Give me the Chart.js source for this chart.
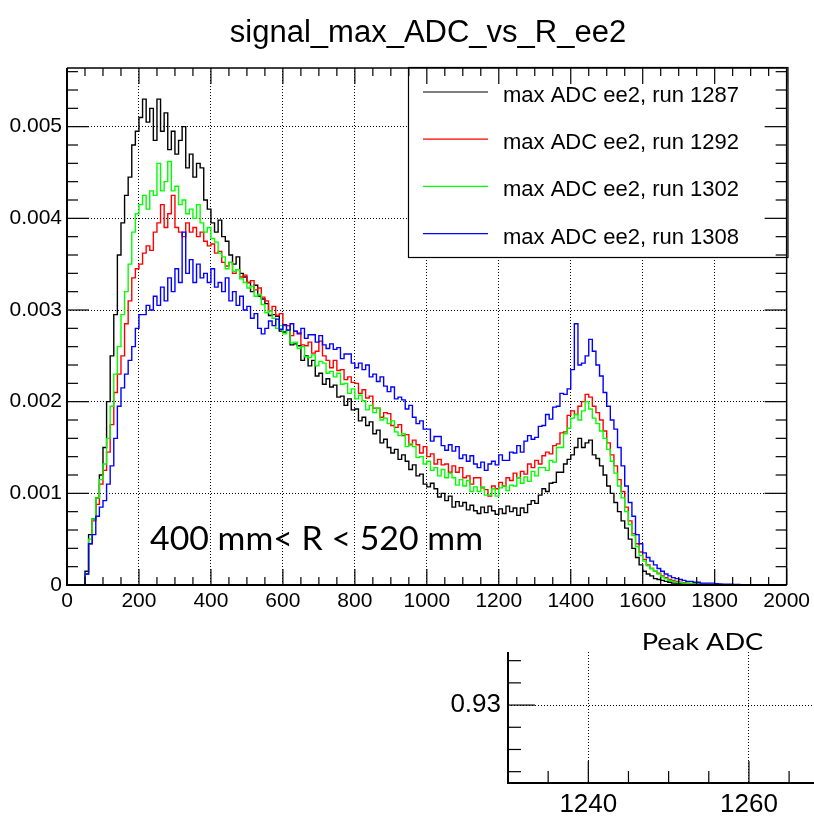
<!DOCTYPE html>
<html><head><meta charset="utf-8">
<script src="https://cdn.jsdelivr.net/npm/chart.js@4.4.1/dist/chart.umd.min.js"></script>
<style>
html,body{margin:0;padding:0;background:#fff;}
#wrap{position:relative;width:814px;height:817px;overflow:hidden;}
#main{position:absolute;left:0;top:0;}
#inset{position:absolute;left:420px;top:620px;}
</style></head><body>
<div id="wrap"><canvas id="main" width="814" height="817"></canvas><canvas id="inset" width="394" height="197"></canvas></div>
<script>
const chartTitle = 'signal_max_ADC_vs_R_ee2';
const seriesLabels = ['max ADC ee2, run 1287','max ADC ee2, run 1292','max ADC ee2, run 1302','max ADC ee2, run 1308'];
const seriesColors = ['#000000','#ff0000','#00ff00','#0000ff'];
const annotationText = '400 mm< R < 520 mm';
const insetTitle = 'Peak ADC';
// histogram bins: 10 ADC wide, 0..2000
const binEdges = Array.from({length: 201}, (_, i) => i * 10);
const xTicks = [0,200,400,600,800,1000,1200,1400,1600,1800,2000];
const yTicks = [0,0.001,0.002,0.003,0.004,0.005];
const insetXTicks = [1240,1260];
const insetYTicks = [0.93];

const run1287 = [
0,0,0,0,0,
0.00015,0.00055,0.00072,0.00095,0.0012,
0.0015,0.002,0.0025,0.00295,0.0036,
0.00395,0.00425,0.00445,0.0048,0.00495,
0.0051,0.0053,0.00505,0.0052,0.00485,
0.0053,0.00495,0.00515,0.00475,0.00495,
0.0047,0.00485,0.005,0.00455,0.0047,
0.00445,0.0046,0.00455,0.0042,0.0041,
0.00395,0.00385,0.00398,0.0038,0.00375,
0.0036,0.0035,0.00358,0.0034,0.00336,
0.0033,0.0032,0.00327,0.00315,0.00312,
0.00307,0.00294,0.00295,0.00293,0.00277,
0.00276,0.00278,0.00262,0.00263,0.00261,
0.00245,0.0025,0.00239,0.00245,0.00228,
0.00231,0.00219,0.00225,0.00216,0.00218,
0.00205,0.00206,0.00196,0.00203,0.00191,
0.00192,0.00179,0.00183,0.00174,0.00178,
0.00165,0.00169,0.00155,0.00159,0.0015,
0.00144,0.00148,0.00137,0.00142,0.00135,
0.00126,0.00131,0.00119,0.00121,0.0011,
0.00107,0.00111,0.00105,0.00096,0.001,
0.00092,0.00097,0.00085,0.00091,0.00086,
0.0009,0.00082,0.00087,0.00081,0.00078,
0.00085,0.00079,0.00086,0.00081,0.00077,
0.00083,0.00078,0.00086,0.0008,0.00084,
0.00076,0.00084,0.00079,0.00088,0.00092,
0.00089,0.00098,0.00105,0.00102,0.00111,
0.00112,0.00123,0.00123,0.00132,0.00137,
0.00142,0.0015,0.0016,0.0015,0.00155,
0.00158,0.00142,0.00138,0.0013,0.0012,
0.00108,0.001,0.0009,0.0008,0.0007,
0.00062,0.0005,0.0004,0.0003,0.00022,
0.00015,0.00012,0.0001,0.00007,0.00006,
0.00005,0.00004,0.00003,0.00002,0.00002,
0.000015,0.00001,0.00001,0.000008,0.000006,
0.000005,0.000004,0.000004,0.000003,0.000003,
0.000002,0.000002,0.000002,0.000001,0.000001,
0.000001,0.000001,0,0,0,
0,0,0,0,0,
0,0,0,0,0];

const run1292 = [
0,0,0,0,0,
0.00012,0.00045,0.0007,0.00088,0.0011,
0.00125,0.00145,0.00175,0.0021,0.0023,
0.0025,0.00285,0.0031,0.00335,0.00345,
0.0035,0.00362,0.0037,0.00365,0.00385,
0.00395,0.00415,0.0039,0.00405,0.00425,
0.0039,0.00385,0.0038,0.00395,0.00385,
0.0039,0.0038,0.00385,0.00375,0.0037,
0.00372,0.00362,0.00364,0.00352,0.00348,
0.00352,0.0034,0.00344,0.00336,0.00338,
0.0033,0.00332,0.00322,0.00324,0.00314,
0.0031,0.00299,0.00304,0.00294,0.00296,
0.00283,0.00283,0.00272,0.00277,0.00275,
0.00262,0.00261,0.00265,0.00253,0.00255,
0.00266,0.0025,0.00245,0.00237,0.00245,
0.00234,0.00235,0.00224,0.00227,0.00221,
0.0022,0.00209,0.00213,0.00204,0.00206,
0.00193,0.00193,0.00183,0.00188,0.00187,
0.00174,0.00172,0.00175,0.00163,0.00164,
0.00153,0.00158,0.00153,0.00144,0.00151,
0.0014,0.00143,0.00132,0.00137,0.00131,
0.00132,0.00123,0.0013,0.00123,0.00128,
0.00117,0.00119,0.0011,0.00117,0.00117,
0.00106,0.00104,0.00097,0.00108,0.00105,
0.00112,0.00108,0.00117,0.00114,0.00122,
0.00117,0.00124,0.00121,0.00132,0.00128,
0.00136,0.00132,0.00141,0.00145,0.00143,
0.00152,0.00154,0.00166,0.00167,0.00185,
0.0019,0.00186,0.00195,0.002,0.00208,
0.00205,0.00195,0.00188,0.0018,0.00168,
0.00155,0.00142,0.0013,0.00115,0.00102,
0.00085,0.0007,0.00056,0.00045,0.00036,
0.00028,0.00022,0.00018,0.00015,0.00013,
0.0001,0.00008,0.00006,0.00005,0.00004,
0.00003,0.000025,0.00002,0.000018,0.000015,
0.000012,0.00001,0.000008,0.000007,0.000006,
0.000005,0.000004,0.000003,0.000003,0.000002,
0.000002,0.000002,0.000001,0.000001,0.000001,
0,0,0,0,0,
0,0,0,0,0];

const run1302 = [
0,0,0,0,0,
0.00012,0.0005,0.00072,0.00095,0.00115,
0.00132,0.0016,0.00195,0.0023,0.0026,
0.00295,0.0032,0.0035,0.00385,0.00405,
0.00415,0.00425,0.0041,0.0043,0.00425,
0.0046,0.0043,0.0044,0.00462,0.0043,
0.00435,0.00415,0.0042,0.00405,0.0041,
0.004,0.00415,0.00395,0.00385,0.0039,
0.00378,0.00374,0.00362,0.00358,0.00345,
0.00352,0.00342,0.00344,0.00334,0.0033,
0.00324,0.00326,0.00315,0.00317,0.00306,
0.00297,0.00299,0.00291,0.0028,0.00283,
0.00274,0.00278,0.00264,0.00265,0.00258,
0.0026,0.00249,0.00248,0.00251,0.00239,
0.00244,0.00242,0.00231,0.00233,0.00227,
0.00231,0.00219,0.0022,0.00209,0.00214,
0.00203,0.00207,0.00201,0.00191,0.00196,
0.00188,0.00193,0.0018,0.00182,0.00176,
0.00179,0.00167,0.00163,0.00165,0.00151,
0.00154,0.00151,0.00139,0.0014,0.00132,
0.00135,0.00125,0.00128,0.00119,0.00126,
0.00117,0.00122,0.00117,0.00109,0.00115,
0.00108,0.00114,0.00102,0.00107,0.00102,
0.00107,0.00098,0.00098,0.00105,0.00097,
0.00106,0.00108,0.00103,0.00109,0.00108,
0.00117,0.00111,0.00118,0.00113,0.00124,
0.00119,0.00128,0.00128,0.00125,0.00136,
0.00134,0.0015,0.0015,0.00165,0.00171,
0.00182,0.00186,0.0018,0.0019,0.002,
0.00192,0.00182,0.00176,0.00168,0.0016,
0.00148,0.00135,0.00122,0.00108,0.00095,
0.0008,0.00066,0.00054,0.00042,0.00032,
0.00026,0.00021,0.00018,0.00015,0.00012,
0.00009,0.00007,0.00005,0.00004,0.00003,
0.000025,0.00002,0.000018,0.000015,0.000012,
0.00001,0.000008,0.000007,0.000006,0.000005,
0.000004,0.000004,0.000003,0.000003,0.000002,
0.000002,0.000001,0.000001,0.000001,0,
0,0,0,0,0,
0,0,0,0,0];

const run1308 = [
0,0,0,0,0,
0.00012,0.00045,0.00055,0.00075,0.00085,
0.00092,0.0011,0.0013,0.0016,0.00195,
0.00215,0.0023,0.00245,0.0026,0.0028,
0.00295,0.00295,0.00305,0.003,0.00315,
0.00305,0.00325,0.0031,0.00335,0.0032,
0.00345,0.0033,0.00385,0.0034,0.00355,
0.0033,0.0035,0.00335,0.0034,0.0033,
0.00345,0.00325,0.0033,0.0032,0.00335,
0.0031,0.0032,0.00305,0.00315,0.003,
0.00304,0.00291,0.00296,0.0028,0.00274,
0.0028,0.00288,0.00283,0.0029,0.00279,
0.00284,0.00278,0.00285,0.00277,0.00274,
0.0028,0.00269,0.00273,0.00273,0.00265,
0.00272,0.00262,0.00258,0.00263,0.00257,
0.00259,0.00247,0.00252,0.00252,0.00242,
0.00237,0.00242,0.00235,0.0024,0.00227,
0.0023,0.00222,0.00227,0.00217,0.00211,
0.00216,0.00203,0.00205,0.00202,0.00192,
0.00196,0.00183,0.00176,0.00179,0.0017,
0.0017,0.00157,0.00162,0.00162,0.00152,
0.00147,0.00153,0.00146,0.00151,0.00138,
0.00142,0.00135,0.00141,0.00132,0.00128,
0.00134,0.00125,0.00132,0.00135,0.00131,
0.00142,0.00136,0.00136,0.00145,0.00144,
0.00152,0.00145,0.00157,0.00163,0.00159,
0.00161,0.00173,0.00174,0.00186,0.00181,
0.00194,0.00195,0.00209,0.00208,0.00214,
0.00235,0.00285,0.0024,0.00242,0.0025,
0.00268,0.00255,0.0024,0.00228,0.0021,
0.00195,0.0018,0.0017,0.0015,0.0013,
0.00108,0.0009,0.00075,0.00055,0.00045,
0.00035,0.0003,0.00026,0.00022,0.00018,
0.00015,0.00012,0.0001,0.00008,0.00007,
0.00006,0.00005,0.00004,0.00004,0.00003,
0.00003,0.00002,0.00002,0.00002,0.00002,
0.000015,0.000012,0.00001,0.00001,0.000008,
0.000006,0.000005,0.000004,0.000003,0.000003,
0.000002,0.000002,0.000002,0.000001,0.000001,
0.000001,0.000001,0,0,0];

const series = [run1287, run1292, run1302, run1308];
const FONT = "'Liberation Sans', Arial, Helvetica, sans-serif";
const NOTE_FONT = "Lato, 'Open Sans', sans-serif";

function histPoints(vals) {
  return binEdges.map((e, j) => ({x: e, y: j < vals.length ? vals[j] : vals[vals.length - 1]}));
}

function seg(ctx, x1, y1, x2, y2) { ctx.beginPath(); ctx.moveTo(x1, y1); ctx.lineTo(x2, y2); ctx.stroke(); }

function fitText(ctx, text, left, baseline, capPx, widthPx, family) {
  const size = capPx / 0.72;
  ctx.font = size + 'px ' + family;
  const w = ctx.measureText(text).width;
  ctx.save();
  ctx.translate(left, baseline);
  ctx.scale(widthPx / w, 1);
  ctx.textAlign = 'left'; ctx.textBaseline = 'alphabetic';
  ctx.fillText(text, 0, 0);
  ctx.restore();
}

const mainDecor = {
  id: 'mainDecor',
  afterDatasetsDraw(chart) {
    const {ctx, chartArea: a, scales: {x, y}} = chart;
    ctx.save();
    // legend box
    const lb = {l: 408.5, t: 67.5, r: 788, b: 257.5};
    ctx.fillStyle = '#fff';
    ctx.fillRect(lb.l, lb.t, lb.r - lb.l, lb.b - lb.t);
    ctx.strokeStyle = '#000'; ctx.lineWidth = 1.2;
    ctx.strokeRect(lb.l, lb.t, lb.r - lb.l, lb.b - lb.t);
    ctx.font = '22px ' + FONT; ctx.textAlign = 'left'; ctx.textBaseline = 'alphabetic';
    chart.data.datasets.forEach((ds, i) => {
      const yy = 92 + i * 47.2;
      ctx.strokeStyle = ds.borderColor; ctx.lineWidth = 1.2;
      seg(ctx, 423, yy, 488, yy);
      ctx.fillStyle = '#000';
      ctx.fillText(ds.label, 503, yy + 10);
    });
    // frame
    ctx.strokeStyle = '#000';
    ctx.lineWidth = 1.5;
    seg(ctx, a.left, a.top, a.right, a.top);
    seg(ctx, a.right, a.top, a.right, a.bottom);
    ctx.lineWidth = 2;
    seg(ctx, a.left, a.top, a.left, a.bottom + 1);
    seg(ctx, a.left - 1, a.bottom, a.right, a.bottom);
    // inward ticks
    ctx.lineWidth = 1.2;
    for (let k = 0; k <= 40; k++) {
      const v = k * 50;
      const px = x.getPixelForValue(v);
      const L = (k % 4 === 0) ? 16 : 8;
      seg(ctx, px, a.bottom, px, a.bottom - L);
      seg(ctx, px, a.top, px, a.top + L);
    }
    for (let k = 0; k <= 40; k++) {
      const v = k * 0.0002;
      if (v > y.max) break;
      const py = y.getPixelForValue(v);
      const L = (k % 5 === 0) ? 22 : 11;
      seg(ctx, a.left, py, a.left + L, py);
      seg(ctx, a.right, py, a.right - L, py);
    }
    // title
    ctx.fillStyle = '#000';
    ctx.font = '31px ' + FONT; ctx.textAlign = 'center'; ctx.textBaseline = 'alphabetic';
    ctx.fillText(chartTitle, 428, 42);
    // annotation
    fitText(ctx, annotationText, 150, 550, 23.3, 333, NOTE_FONT);
    ctx.restore();
  }
};

new Chart(document.getElementById('main'), {
  type: 'line',
  data: {
    datasets: series.map((s, i) => ({
      label: seriesLabels[i],
      data: histPoints(s),
      borderColor: seriesColors[i],
      backgroundColor: seriesColors[i],
      borderWidth: 1.4,
      pointRadius: 0,
      stepped: 'before',
      fill: false,
      order: 4 - i
    }))
  },
  options: {
    responsive: false, animation: false, events: [],
    layout: {padding: {top: 68, right: 26, bottom: 192, left: 0}},
    plugins: {legend: {display: false}, tooltip: {enabled: false}, title: {display: false}},
    scales: {
      x: {
        type: 'linear', min: 0, max: 2000,
        afterBuildTicks: s => { s.ticks = xTicks.map(v => ({value: v})); },
        afterFit: s => { s.height = 40; },
        ticks: {font: {family: FONT, size: 21}, color: '#000', padding: 4, maxRotation: 0, autoSkip: false, callback: v => String(v)},
        grid: {color: '#000', lineWidth: 1, drawTicks: false},
        border: {display: false, dash: [1, 2]}
      },
      y: {
        type: 'linear', min: 0, max: 0.00564,
        afterBuildTicks: s => { s.ticks = yTicks.map(v => ({value: v})); },
        afterFit: s => { s.width = 67; },
        ticks: {font: {family: FONT, size: 21}, color: '#000', padding: 5, autoSkip: false, callback: v => v === 0 ? '0' : v.toFixed(3)},
        grid: {color: '#000', lineWidth: 1, drawTicks: false},
        border: {display: false, dash: [1, 2]}
      }
    }
  },
  plugins: [mainDecor]
});

const insetDecor = {
  id: 'insetDecor',
  afterDatasetsDraw(chart) {
    const {ctx, chartArea: a, scales: {x, y}} = chart;
    ctx.save();
    ctx.strokeStyle = '#000';
    ctx.lineWidth = 2;
    seg(ctx, a.left, a.top, a.left, a.bottom + 1);
    seg(ctx, a.left - 1, a.bottom, a.right, a.bottom);
    ctx.lineWidth = 1.2;
    for (let k = 1; k <= 8; k++) {
      const v = 1230 + k * 5;
      if (v > x.max) break;
      const px = x.getPixelForValue(v);
      const L = (v % 20 === 0) ? 22 : 12;
      seg(ctx, px, a.bottom, px, a.bottom - L);
    }
    for (let k = -3; k <= 2; k++) {
      const v = 0.93 + k * 0.002;
      const py = y.getPixelForValue(v);
      const L = (k === 0) ? 27 : 13;
      seg(ctx, a.left, py, a.left + L, py);
    }
    ctx.fillStyle = '#000';
    fitText(ctx, insetTitle, 221.7, 30, 16.7, 121.6, NOTE_FONT);
    ctx.restore();
  }
};

new Chart(document.getElementById('inset'), {
  type: 'scatter',
  data: {datasets: [{data: [], pointRadius: 0}]},
  options: {
    responsive: false, animation: false, events: [],
    layout: {padding: {top: 32, right: 0, bottom: 0, left: 0}},
    plugins: {legend: {display: false}, tooltip: {enabled: false}},
    scales: {
      x: {
        type: 'linear', min: 1230, max: 1268.1,
        afterBuildTicks: s => { s.ticks = insetXTicks.map(v => ({value: v})); },
        afterFit: s => { s.height = 34; },
        ticks: {font: {family: FONT, size: 26}, color: '#000', padding: 6, maxRotation: 0, autoSkip: false, callback: v => String(v)},
        grid: {color: '#000', lineWidth: 1, drawTicks: false},
        border: {display: false, dash: [1, 2]}
      },
      y: {
        type: 'linear', min: 0.92298, max: 0.93478,
        afterBuildTicks: s => { s.ticks = insetYTicks.map(v => ({value: v})); },
        afterFit: s => { s.width = 88; },
        ticks: {font: {family: FONT, size: 26}, color: '#000', padding: 7, autoSkip: false, callback: v => v.toFixed(2)},
        grid: {color: '#000', lineWidth: 1, drawTicks: false},
        border: {display: false, dash: [1, 2]}
      }
    }
  },
  plugins: [insetDecor]
});
</script>
</body></html>
